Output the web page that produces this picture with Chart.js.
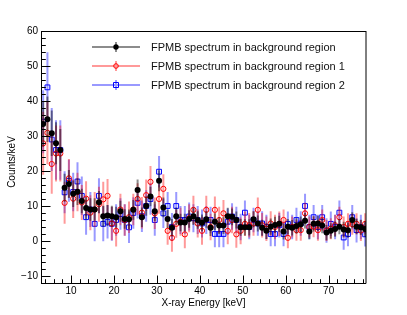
<!DOCTYPE html>
<html>
<head>
<meta charset="utf-8">
<script src="https://cdn.jsdelivr.net/npm/chart.js@4.4.1/dist/chart.umd.min.js"></script>
<style>
  body { margin: 0; background: #fff; }
</style>
</head>
<body>
<canvas id="spectrumChart" width="407" height="315"></canvas>
<script>
// bin centres (keV)
const energies = [3.5, 4.5, 5.5, 6.5, 7.5, 8.5, 9.5, 10.5, 11.5, 12.5, 13.5, 14.5, 15.5, 16.5, 17.5, 18.5, 19.5, 20.5, 21.5, 22.5,
    23.5, 24.5, 25.5, 26.5, 27.5, 28.5, 29.5, 30.5, 31.5, 32.5, 33.5, 34.5, 35.5, 36.5, 37.5, 38.5, 39.5, 40.5, 41.5, 42.5,
    43.5, 44.5, 45.5, 46.5, 47.5, 48.5, 49.5, 50.5, 51.5, 52.5, 53.5, 54.5, 55.5, 56.5, 57.5, 58.5, 59.5, 60.5, 61.5, 62.5,
    63.5, 64.5, 65.5, 66.5, 67.5, 68.5, 69.5, 70.5, 71.5, 72.5, 73.5, 74.5, 75.5, 76.5, 77.5, 78.5];

// FPMB spectrum in background region
const bkgCounts = [33.4, 34.8, 30.8, 27.9, 26.0, 15.2, 16.3, 13.5, 14.1, 11.4, 9.4, 9.0, 9.0, 11.1, 7.1, 7.3, 7.1, 6.8, 8.5, 6.3,
    6.2, 8.9, 14.6, 6.8, 10.0, 12.7, 8.5, 17.2, 9.6, 6.3, 3.8, 7.1, 5.3, 5.3, 6.3, 7.1, 6.0, 5.2, 6.2, 3.8,
    5.5, 4.4, 4.4, 7.1, 6.9, 6.0, 3.9, 3.9, 3.9, 6.2, 5.0, 3.8, 2.9, 4.1, 4.6, 4.9, 2.7, 4.1, 3.8, 4.3,
    4.8, 5.8, 2.7, 4.9, 5.0, 4.4, 2.4, 2.9, 3.4, 4.1, 3.3, 3.1, 6.0, 4.1, 3.9, 3.4];
const bkgErrors = [6.5, 6.5, 6.5, 6.0, 6.0, 4.0, 4.0, 3.8, 3.8, 3.5, 3.2, 3.2, 3.2, 3.2, 3.0, 3.0, 3.0, 3.0, 3.0, 2.8,
    2.8, 2.8, 3.0, 2.8, 2.8, 2.8, 2.8, 3.0, 2.8, 2.6, 2.5, 2.5, 2.5, 2.5, 2.5, 2.5, 2.5, 2.4, 2.4, 2.4,
    2.4, 2.4, 2.4, 2.4, 2.4, 2.4, 2.4, 2.3, 2.3, 2.3, 2.3, 2.3, 2.3, 2.3, 2.3, 2.3, 2.3, 2.2, 2.2, 2.2,
    2.2, 2.2, 2.2, 2.2, 2.2, 2.2, 2.2, 2.2, 2.2, 2.2, 2.2, 2.2, 2.2, 2.2, 2.2, 2.2];

// FPMB spectrum in background region 1
const bkg1Counts = [27.9, 30.9, 22.0, 25.0, 25.0, 10.9, 17.9, 12.1, 14.0, 11.0, 12.1, 8.1, 9.0, 10.5, 11.9, 12.9, 5.0, 2.9, 9.0, 6.0,
    6.8, 9.0, 12.0, 8.1, 13.1, 16.9, 7.9, 12.0, 14.9, 2.9, 0.9, 4.9, 5.5, 1.9, 6.5, 8.9, 5.0, 2.9, 8.9, 4.0,
    8.9, 6.0, 7.9, 2.9, 6.0, 1.9, 2.9, 4.9, 4.5, 5.0, 8.9, 4.5, 3.5, 5.0, 4.0, 4.9, 6.0, 0.9, 4.0, 3.1,
    3.1, 7.9, 4.0, 4.1, 3.1, 6.0, 3.0, 3.5, 4.5, 6.8, 4.0, 4.9, 4.8, 4.9, 3.0, 4.9];
const bkg1Errors = [9.0, 9.0, 8.5, 8.0, 8.0, 6.0, 5.5, 5.5, 5.5, 5.0, 5.0, 5.0, 5.0, 5.0, 5.0, 4.8, 4.8, 4.5, 4.5, 4.5,
    4.5, 4.5, 4.5, 4.5, 4.5, 4.5, 4.5, 4.2, 4.2, 4.0, 4.0, 4.0, 4.0, 4.0, 4.0, 4.0, 4.0, 4.0, 4.0, 3.8,
    3.8, 3.8, 3.8, 3.8, 3.8, 3.8, 3.8, 3.5, 3.5, 3.5, 3.5, 3.5, 3.5, 3.5, 3.5, 3.5, 3.0, 3.0, 3.0, 3.0,
    3.0, 3.0, 3.0, 3.0, 3.0, 3.0, 3.0, 3.0, 3.0, 3.0, 3.0, 3.0, 3.0, 3.0, 3.0, 3.0];

// FPMB spectrum in background region 2
const bkg2Counts = [34.1, 43.9, 29.0, 26.0, 26.0, 13.9, 17.2, 14.0, 17.0, 12.9, 6.8, 9.0, 4.9, 12.9, 4.9, 5.5, 4.9, 6.0, 7.7, 6.0,
    3.9, 8.0, 10.9, 7.1, 10.0, 12.0, 6.0, 19.8, 7.9, 10.0, 4.0, 10.0, 6.0, 6.0, 7.0, 6.5, 6.0, 5.0, 6.0, 6.0,
    2.0, 2.0, 2.0, 5.5, 7.0, 6.0, 4.0, 8.1, 4.0, 6.0, 5.0, 5.0, 4.0, 2.0, 2.0, 4.5, 2.0, 4.9, 4.0, 6.0,
    5.0, 10.0, 4.0, 6.8, 4.0, 6.8, 3.0, 4.9, 4.0, 8.1, 1.0, 2.0, 6.8, 3.1, 4.0, 1.9];
const bkg2Errors = [9.0, 10.0, 9.0, 8.5, 8.5, 6.0, 6.0, 5.5, 5.5, 5.5, 5.0, 5.0, 5.0, 5.0, 5.0, 4.8, 4.8, 4.5, 4.5, 4.5,
    4.5, 4.5, 4.5, 4.5, 4.5, 4.5, 4.5, 4.5, 4.2, 4.0, 4.0, 4.0, 4.0, 4.0, 4.0, 4.0, 4.0, 4.0, 4.0, 3.8,
    3.8, 3.8, 3.8, 3.8, 3.8, 3.8, 3.8, 3.5, 3.5, 3.5, 3.5, 3.5, 3.5, 3.5, 3.5, 3.5, 3.5, 3.5, 3.5, 3.5,
    3.5, 3.5, 3.5, 3.5, 3.5, 3.5, 3.5, 3.5, 3.5, 3.5, 3.5, 3.5, 3.5, 3.5, 3.5, 3.5];

const xTickLabels = [10, 20, 30, 40, 50, 60, 70];
const yTickLabels = [-10, 0, 10, 20, 30, 40, 50, 60];

const FONT = "'Liberation Sans', Arial, sans-serif";

function toPoints(values) {
    return energies.map((e, i) => ({ x: e, y: values[i] }));
}

// ROOT-like error bars, drawn under each dataset's markers
const errorBarPlugin = {
    id: 'errorBars',
    beforeDatasetDraw(chart, args) {
        const ds = chart.data.datasets[args.index];
        const xs = chart.scales.x, ys = chart.scales.y;
        const ctx = chart.ctx;
        const area = chart.chartArea;
        ctx.save();
        ctx.beginPath();
        ctx.rect(area.left, area.top, area.right - area.left, area.bottom - area.top);
        ctx.clip();
        ctx.strokeStyle = ds.errColor;
        ctx.lineWidth = ds.errWidth;
        ctx.beginPath();
        ds.values.forEach((v, i) => {
            const px = xs.getPixelForValue(energies[i]);
            ctx.moveTo(px, ys.getPixelForValue(v + ds.errors[i]));
            ctx.lineTo(px, ys.getPixelForValue(v - ds.errors[i]));
        });
        ctx.stroke();
        if (ds.xErrors) {
            ctx.lineWidth = 1;
            ctx.beginPath();
            ds.values.forEach((v, i) => {
                const py = ys.getPixelForValue(v);
                ctx.moveTo(xs.getPixelForValue(energies[i] - 0.5), py);
                ctx.lineTo(xs.getPixelForValue(energies[i] + 0.5), py);
            });
            ctx.stroke();
        }
        ctx.restore();
    }
};

// frame, inward ticks, labels, titles and legend
const frameplugin = {
    id: 'rootFrame',
    afterDraw(chart) {
        const ctx = chart.ctx;
        const xs = chart.scales.x, ys = chart.scales.y;
        const a = chart.chartArea;
        ctx.save();

        // frame
        ctx.strokeStyle = '#000';
        ctx.lineWidth = 1;
        ctx.beginPath();
        ctx.moveTo(a.left + 0.5, a.top + 0.5);
        ctx.lineTo(a.right, a.top + 0.5);
        ctx.moveTo(a.right, a.top);
        ctx.lineTo(a.right, a.bottom + 0.5);
        ctx.moveTo(a.left + 0.5, a.top);
        ctx.lineTo(a.left + 0.5, a.bottom + 0.5);
        ctx.lineTo(a.right, a.bottom + 0.5);
        ctx.stroke();

        // x ticks
        ctx.beginPath();
        for (let v = 4; v <= xs.max; v += 2) {
            const px = Math.round(xs.getPixelForValue(v)) + 0.5;
            const len = (v % 10 === 0) ? 7.5 : 3.8;
            ctx.moveTo(px, a.bottom);
            ctx.lineTo(px, a.bottom - len);
        }
        // y ticks
        for (let v = -12; v <= ys.max; v += 2) {
            const py = Math.round(ys.getPixelForValue(v)) + 0.5;
            const len = (v % 10 === 0) ? 9.5 : 4.8;
            ctx.moveTo(a.left, py);
            ctx.lineTo(a.left + len, py);
        }
        ctx.stroke();

        // tick labels
        ctx.fillStyle = '#000';
        ctx.font = '10px ' + FONT;
        ctx.textAlign = 'center';
        ctx.textBaseline = 'middle';
        xTickLabels.forEach(v => {
            ctx.fillText(String(v), xs.getPixelForValue(v), a.bottom + 8);
        });
        ctx.textAlign = 'right';
        yTickLabels.forEach(v => {
            ctx.fillText(String(v).replace('-', '\u2212'), a.left - 3, ys.getPixelForValue(v));
        });

        // axis titles
        ctx.textAlign = 'center';
        ctx.fillText('X-ray Energy [keV]', (a.left + a.right) / 2, 303);
        ctx.save();
        ctx.translate(12, 162);
        ctx.rotate(-Math.PI / 2);
        ctx.fillText('Counts/keV', 0, 0);
        ctx.restore();

        // legend
        chart.data.datasets.forEach((ds, i) => {
            const y = 47 + i * 19;
            const mx = 116;
            ctx.strokeStyle = ds.legendColor;
            ctx.lineWidth = 2;
            ctx.beginPath();
            ctx.moveTo(92, y);
            ctx.lineTo(140, y);
            ctx.moveTo(mx, y - 5);
            ctx.lineTo(mx, y + 5);
            ctx.stroke();
            ctx.lineWidth = 1;
            ctx.strokeStyle = ds.borderColor;
            ctx.fillStyle = ds.backgroundColor;
            ctx.beginPath();
            if (ds.pointStyle === 'rect') {
                ctx.rect(mx - 2.5, y - 2.5, 5, 5);
            } else {
                ctx.arc(mx, y, ds.pointRadius - 0.3, 0, Math.PI * 2);
            }
            if (ds.backgroundColor !== 'rgba(0,0,0,0)') ctx.fill();
            else ctx.stroke();
            ctx.fillStyle = '#111';
            ctx.font = '11px ' + FONT;
            ctx.textAlign = 'left';
            ctx.textBaseline = 'middle';
            ctx.fillText(ds.label, 151, y + 0.5);
        });

        ctx.restore();
    }
};

const ctx = document.getElementById('spectrumChart').getContext('2d');
const spectrumChart = new Chart(ctx, {
    type: 'scatter',
    data: {
        datasets: [
            {
                label: 'FPMB spectrum in background region',
                data: toPoints(bkgCounts),
                values: bkgCounts,
                errors: bkgErrors,
                xErrors: true,
                errColor: 'rgba(0,0,0,0.45)',
                errWidth: 2,
                legendColor: 'rgba(0,0,0,0.45)',
                pointStyle: 'circle',
                pointRadius: 3,
                backgroundColor: '#000',
                borderColor: '#000',
                borderWidth: 0
            },
            {
                label: 'FPMB spectrum in background region 1',
                data: toPoints(bkg1Counts),
                values: bkg1Counts,
                errors: bkg1Errors,
                xErrors: false,
                errColor: 'rgba(255,0,0,0.4)',
                errWidth: 2,
                legendColor: 'rgba(255,0,0,0.4)',
                pointStyle: 'circle',
                pointRadius: 2.6,
                backgroundColor: 'rgba(0,0,0,0)',
                borderColor: '#ff0000',
                borderWidth: 1
            },
            {
                label: 'FPMB spectrum in background region 2',
                data: toPoints(bkg2Counts),
                values: bkg2Counts,
                errors: bkg2Errors,
                xErrors: false,
                errColor: 'rgba(0,0,255,0.4)',
                errWidth: 2,
                legendColor: 'rgba(0,0,255,0.4)',
                pointStyle: 'rect',
                pointRadius: 3.4,
                backgroundColor: 'rgba(0,0,0,0)',
                borderColor: '#0000ff',
                borderWidth: 1
            }
        ]
    },
    options: {
        responsive: false,
        animation: false,
        devicePixelRatio: 1,
        layout: { padding: { left: 41, right: 41, top: 31, bottom: 32 } },
        scales: {
            x: { type: 'linear', min: 3, max: 78.7, display: false },
            y: { type: 'linear', min: -12, max: 60, display: false }
        },
        plugins: {
            legend: { display: false },
            tooltip: { enabled: false }
        }
    },
    plugins: [errorBarPlugin, frameplugin]
});
</script>
</body>
</html>
